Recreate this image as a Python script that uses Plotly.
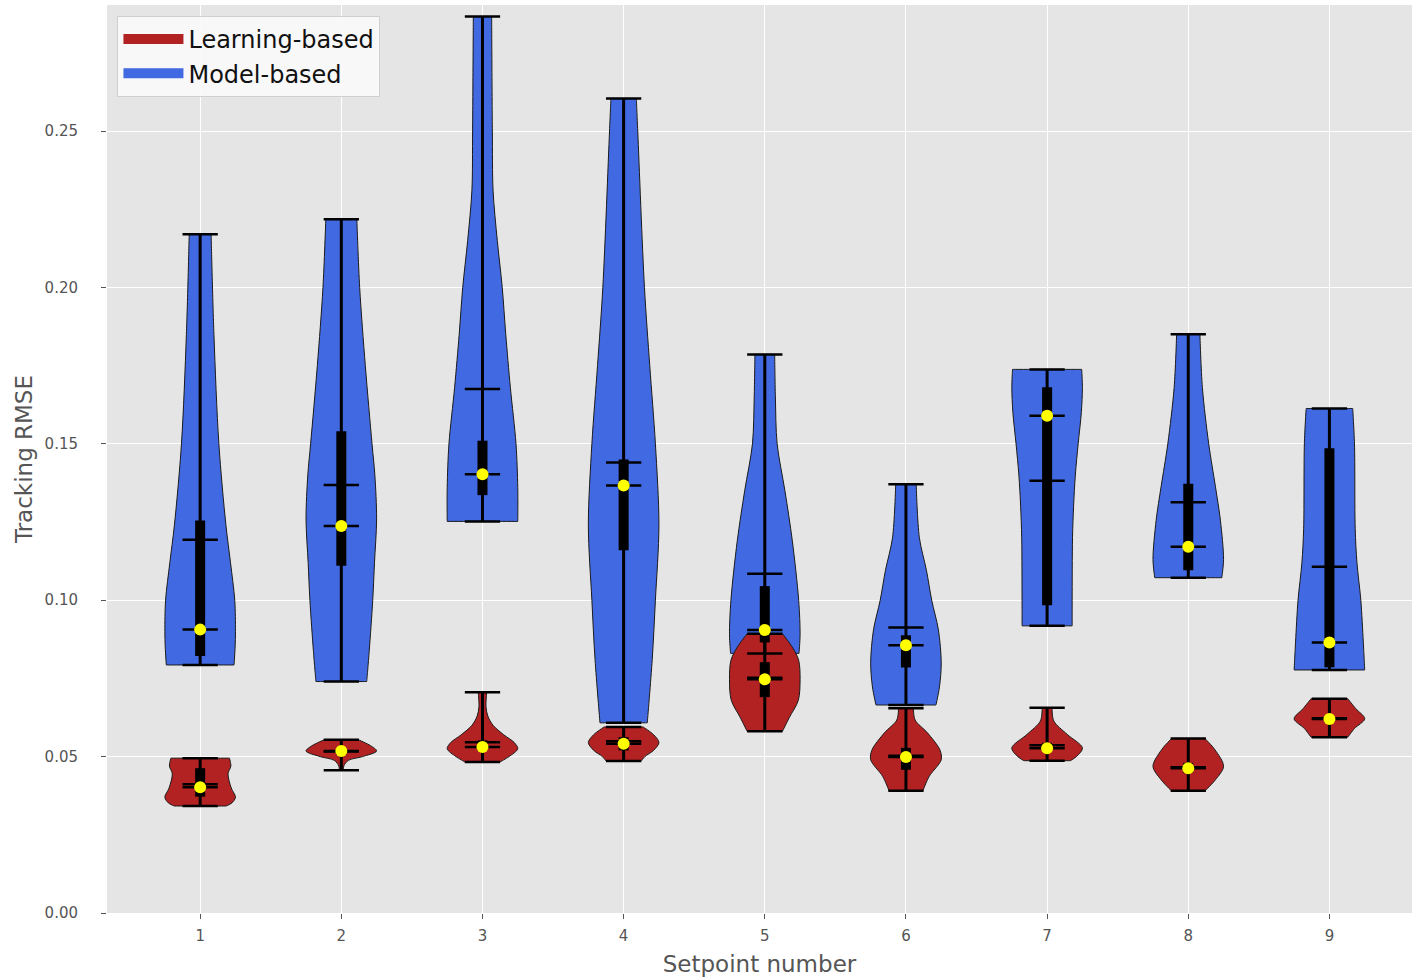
import plotly.graph_objects as go

setpoints = [1, 2, 3, 4, 5, 6, 7, 8, 9]
tick_labels = ["1", "2", "3", "4", "5", "6", "7", "8", "9"]
y_ticks = [0.00, 0.05, 0.10, 0.15, 0.20, 0.25]

# Model-based controller: summary statistics of the tracking RMSE per setpoint
model_min = [0.0793, 0.0740, 0.1252, 0.0608, 0.0830, 0.0665, 0.0918, 0.1072, 0.0777]
model_max = [0.2170, 0.2218, 0.2866, 0.2604, 0.1786, 0.1371, 0.1738, 0.1850, 0.1613]
model_mean = [0.1193, 0.1368, 0.1675, 0.1440, 0.1085, 0.0913, 0.1382, 0.1313, 0.1107]
model_median = [0.0906, 0.1237, 0.1403, 0.1367, 0.0905, 0.0856, 0.1590, 0.1171, 0.0865]
model_q1 = [0.0822, 0.1110, 0.1336, 0.1160, 0.0865, 0.0785, 0.0984, 0.1096, 0.0786]
model_q3 = [0.1255, 0.1540, 0.1510, 0.1450, 0.1045, 0.0888, 0.1681, 0.1372, 0.1486]

# Learning-based controller: summary statistics of the tracking RMSE per setpoint
learn_min = [0.0342, 0.0456, 0.0483, 0.0486, 0.0581, 0.0391, 0.0487, 0.0391, 0.0562]
learn_max = [0.0495, 0.0554, 0.0706, 0.0595, 0.0893, 0.0655, 0.0656, 0.0558, 0.0685]
learn_mean = [0.0412, 0.0516, 0.0546, 0.0549, 0.0752, 0.0503, 0.0536, 0.0466, 0.0623]
learn_median = [0.0402, 0.0518, 0.0531, 0.0541, 0.0747, 0.0499, 0.0527, 0.0463, 0.0620]
learn_q1 = [0.0372, 0.0505, 0.0520, 0.0520, 0.0690, 0.0458, 0.0517, 0.0448, 0.0610]
learn_q3 = [0.0463, 0.0528, 0.0552, 0.0562, 0.0802, 0.0528, 0.0544, 0.0480, 0.0630]

# Kernel-density outlines: RMSE levels and relative density (1 = widest point)
model_prof_y = [
    [0.0793, 0.085, 0.090, 0.100, 0.112, 0.124, 0.150, 0.185, 0.2170],
    [0.0740, 0.0836, 0.100, 0.112, 0.126, 0.140, 0.150, 0.175, 0.200, 0.2218],
    [0.1252, 0.136, 0.150, 0.168, 0.185, 0.200, 0.215, 0.231, 0.250, 0.2866],
    [0.0608, 0.081, 0.100, 0.124, 0.150, 0.175, 0.200, 0.250, 0.2604],
    [0.0830, 0.089, 0.100, 0.119, 0.135, 0.150, 0.165, 0.1786],
    [0.0665, 0.0723, 0.080, 0.0905, 0.100, 0.1096, 0.120, 0.1371],
    [0.0918, 0.100, 0.120, 0.130, 0.140, 0.150, 0.160, 0.168, 0.1738],
    [0.1072, 0.113, 0.1256, 0.1363, 0.150, 0.168, 0.1850],
    [0.0777, 0.0866, 0.100, 0.112, 0.123, 0.150, 0.1613],
]
model_prof_w = [
    [0.96, 0.99, 1.00, 0.98, 0.86, 0.73, 0.53, 0.39, 0.31],
    [0.72, 0.79, 0.89, 0.94, 1.00, 0.95, 0.87, 0.68, 0.52, 0.44],
    [1.00, 1.00, 0.95, 0.79, 0.66, 0.56, 0.42, 0.30, 0.28, 0.26],
    [0.67, 0.81, 0.90, 1.00, 0.90, 0.74, 0.59, 0.40, 0.36],
    [0.97, 1.00, 0.96, 0.78, 0.57, 0.35, 0.30, 0.28],
    [0.85, 0.95, 1.00, 0.92, 0.73, 0.58, 0.38, 0.29],
    [0.71, 0.71, 0.72, 0.75, 0.80, 0.88, 0.97, 1.00, 0.98],
    [0.95, 1.00, 0.91, 0.77, 0.58, 0.40, 0.33],
    [1.00, 0.96, 0.89, 0.78, 0.73, 0.71, 0.66],
]
learn_prof_y = [
    [0.0342, 0.0352, 0.0370, 0.0400, 0.0445, 0.0470, 0.0495],
    [0.0456, 0.0470, 0.0488, 0.0500, 0.0518, 0.0535, 0.0554],
    [0.0483, 0.0500, 0.0525, 0.0545, 0.0570, 0.0600, 0.0630, 0.0660, 0.0706],
    [0.0486, 0.0500, 0.0520, 0.0545, 0.0570, 0.0595],
    [0.0581, 0.0626, 0.0680, 0.0747, 0.0808, 0.0850, 0.0893],
    [0.0391, 0.0437, 0.0490, 0.0522, 0.0576, 0.0617, 0.0655],
    [0.0487, 0.0502, 0.0528, 0.0571, 0.0614, 0.0656],
    [0.0391, 0.0426, 0.0469, 0.0523, 0.0558],
    [0.0562, 0.0590, 0.0621, 0.0653, 0.0685],
]
learn_prof_w = [
    [0.73, 0.90, 1.00, 0.88, 0.79, 0.87, 0.83],
    [0.06, 0.07, 0.20, 0.60, 1.00, 0.83, 0.48],
    [0.50, 0.75, 1.00, 0.90, 0.60, 0.30, 0.15, 0.10, 0.12],
    [0.50, 0.60, 0.85, 1.00, 0.85, 0.55],
    [0.50, 0.70, 0.95, 1.00, 0.96, 0.78, 0.50],
    [0.48, 0.66, 1.00, 0.96, 0.61, 0.26, 0.21],
    [0.66, 0.85, 1.00, 0.57, 0.19, 0.14],
    [0.48, 0.77, 1.00, 0.75, 0.47],
    [0.52, 0.71, 1.00, 0.75, 0.52],
]

LEARN_COLOR = "#B22222"
MODEL_COLOR = "#4169E1"
HALF_WIDTH = 0.25   # half of the violin width at its widest point
CAP_HALF = 0.125    # half length of the horizontal marker lines


def outline(pos, ys, ws):
    """Closed violin outline around `pos`, mirrored left/right.

    The end corners are repeated so the spline keeps the flat ends square.
    """
    xr = [pos + HALF_WIDTH * w for w in ws]
    xl = [pos - HALF_WIDTH * w for w in ws]
    x = [xr[0]] + xr + [xr[-1]] + [xl[-1]] + xl[::-1] + [xl[0]] + [xr[0]]
    y = [ys[0]] + ys + [ys[-1]] + [ys[-1]] + ys[::-1] + [ys[0]] + [ys[0]]
    return x, y


fig = go.Figure()

# Violin bodies: model-based first, learning-based drawn on top
for prof_y, prof_w, color in [
    (model_prof_y, model_prof_w, MODEL_COLOR),
    (learn_prof_y, learn_prof_w, LEARN_COLOR),
]:
    for pos, ys, ws in zip(setpoints, prof_y, prof_w):
        x, y = outline(pos, ys, ws)
        fig.add_trace(go.Scatter(
            x=x, y=y, mode="lines", fill="toself", fillcolor=color,
            line=dict(color="#1a1a1a", width=1, shape="spline", smoothing=0.9,
                      simplify=False),
            hoverinfo="skip", showlegend=False,
        ))


def segments(pairs):
    xs, ys = [], []
    for (x0, y0), (x1, y1) in pairs:
        xs += [x0, x1, None]
        ys += [y0, y1, None]
    return xs, ys


groups = [
    (model_min, model_max, model_mean, model_median, model_q1, model_q3),
    (learn_min, learn_max, learn_mean, learn_median, learn_q1, learn_q3),
]

# Vertical range bars (min to max)
bar_pairs = []
for mn, mx, *_ in groups:
    for pos, a, b in zip(setpoints, mn, mx):
        bar_pairs.append(((pos, a), (pos, b)))
bx, by = segments(bar_pairs)
fig.add_trace(go.Scatter(x=bx, y=by, mode="lines", line=dict(color="black", width=3),
                         hoverinfo="skip", showlegend=False))

# Interquartile range bars
iqr_pairs = []
for _, _, _, _, q1, q3 in groups:
    for pos, a, b in zip(setpoints, q1, q3):
        iqr_pairs.append(((pos, a), (pos, b)))
qx, qy = segments(iqr_pairs)
fig.add_trace(go.Scatter(x=qx, y=qy, mode="lines", line=dict(color="black", width=10),
                         hoverinfo="skip", showlegend=False))

# Horizontal lines: extrema, mean and median
cap_pairs = []
for mn, mx, me, md, _, _ in groups:
    for series in (mn, mx, me, md):
        for pos, v in zip(setpoints, series):
            cap_pairs.append(((pos - CAP_HALF, v), (pos + CAP_HALF, v)))
cx, cy = segments(cap_pairs)
fig.add_trace(go.Scatter(x=cx, y=cy, mode="lines", line=dict(color="black", width=2.5),
                         hoverinfo="skip", showlegend=False))

# Median markers
fig.add_trace(go.Scatter(
    x=setpoints + setpoints, y=model_median + learn_median, mode="markers",
    marker=dict(color="#FFFF00", size=12, line=dict(width=0)),
    hoverinfo="skip", showlegend=False,
))

# Legend entries
fig.add_trace(go.Scatter(x=[None], y=[None], mode="lines", name="Learning-based",
                         line=dict(color=LEARN_COLOR, width=10)))
fig.add_trace(go.Scatter(x=[None], y=[None], mode="lines", name="Model-based",
                         line=dict(color=MODEL_COLOR, width=10)))

fig.update_layout(
    width=1412, height=978,
    margin=dict(l=107, r=0, t=5, b=65),
    paper_bgcolor="white", plot_bgcolor="#E5E5E5",
    font=dict(family="DejaVu Sans", color="#555555"),
    legend=dict(
        x=0.008, y=0.988, xanchor="left", yanchor="top",
        bgcolor="rgba(250,250,250,0.9)", bordercolor="#D0D0D0", borderwidth=1,
        font=dict(size=24, color="#111111"), traceorder="normal",
        itemwidth=60,
    ),
)
fig.update_xaxes(
    range=[0.34, 9.585], tickmode="array", tickvals=setpoints, ticktext=tick_labels,
    showgrid=True, gridcolor="white", gridwidth=1.2, zeroline=False, showline=False,
    ticks="outside", ticklen=5, tickcolor="#555555", tickwidth=1,
    tickfont=dict(size=15, color="#555555"), ticklabelstandoff=4,
    title=dict(text="Setpoint number", font=dict(size=23, color="#555555"), standoff=11),
)
fig.update_yaxes(
    range=[0.0, 0.2903], tickmode="array", tickvals=y_ticks,
    ticktext=[f"{v:.2f}" for v in y_ticks],
    showgrid=True, gridcolor="white", gridwidth=1.2, zeroline=False, showline=False,
    ticks="outside", ticklen=5, tickcolor="#555555", tickwidth=1,
    tickfont=dict(size=15, color="#555555"), ticklabelstandoff=20,
    title=dict(text="Tracking RMSE", font=dict(size=23, color="#555555"), standoff=5),
)

fig.write_html("out.html")
